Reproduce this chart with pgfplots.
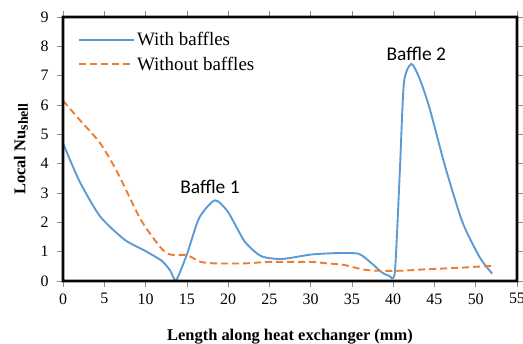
\documentclass[border=0pt]{standalone}
\usepackage{pgfplots}
\pgfplotsset{compat=1.18}
\usepackage{fontspec}
\setmainfont{Liberation Serif}
\newfontfamily\calib{Carlito}
\definecolor{xlblue}{RGB}{91,155,213}
\definecolor{xlorange}{RGB}{237,125,49}
\definecolor{framecol}{RGB}{5,5,5}
\definecolor{tickcol}{RGB}{140,140,140}
\begin{document}
\begin{tikzpicture}
\useasboundingbox (-63bp,-63bp) rectangle (460bp,281bp);
\begin{axis}[
  at={(0,0)}, anchor=south west,
  scale only axis,
  width=454bp, height=264bp,
  xmin=0, xmax=55, ymin=0, ymax=9,
  xtick={0,5,...,55}, ytick={0,1,...,9},
  axis line style={draw=framecol, line width=2.6pt},
  tick style={draw=tickcol, line width=0.6pt},
  tick align=outside, major tick length=6bp,
  /pgf/number format/assume math mode=true,
  tick label style={font=\rmfamily\fontsize{16}{18}\selectfont},
  yticklabel style={xshift=-5bp},
  xticklabel style={yshift=-3bp},
  xlabel={\textbf{Length along heat exchanger (mm)}},
  ylabel={\textbf{Local Nu\raisebox{-0.35ex}{\fontsize{14}{14}\selectfont shell}}},
  label style={font=\rmfamily\fontsize{16.5}{18}\selectfont},
  xlabel style={at={(axis description cs:0.5,0)}, anchor=center, yshift=-56bp},
  ylabel style={at={(axis description cs:-0.0925,0.5)}, anchor=center},
  legend style={draw=none, fill=none, at={(15bp,251bp)}, anchor=north west,
    font=\rmfamily\fontsize{19}{21}\selectfont, row sep=6pt, inner sep=0pt},
  legend cell align=left,
  every axis legend/.append style={/tikz/every even column/.append style={column sep=4bp}},
  legend image code/.code={\draw[#1] (0bp,0bp) -- (55bp,0bp);},
  clip=false,
]
\addplot[xlblue, line width=1.9pt, smooth, tension=0.4] coordinates {
(0,4.7) (2,3.4) (4.5,2.2) (7.5,1.4) (10,1.02) (12,0.68) (13,0.35) (13.7,0.03)
(15,0.9) (16.5,2.15) (18.4,2.75) (20,2.35) (22,1.35) (24,0.85) (26.5,0.75)
(30,0.9) (33,0.95) (35.8,0.93) (37.4,0.6) (38.6,0.3) (39.5,0.18) (40.2,0.3)
(40.8,3.7) (41.3,6.75) (42.2,7.4) (43.2,6.9) (44.4,5.9) (46.3,3.9) (48.4,2.0)
(50.5,0.8) (52,0.25)
};
\addlegendentry{With baffles}
\addplot[xlorange, line width=1.9pt, dash pattern=on 7bp off 4bp, smooth, tension=0.4] coordinates {
(0,6.15) (2,5.5) (4.5,4.7) (6.6,3.7) (9.4,2.1) (11.8,1.15) (13,0.9) (15,0.88)
(16.7,0.65) (18.5,0.6) (22,0.6) (25,0.65) (30,0.65) (32,0.6) (34,0.55)
(36.2,0.4) (38,0.35) (41,0.35) (44,0.4) (48,0.45) (52,0.52)
};
\addlegendentry{Without baffles}
\node[font=\calib\fontsize{19.5}{21}\selectfont] at (axis cs:17.8,3.2) {Baffle 1};
\node[font=\calib\fontsize{19.5}{21}\selectfont] at (axis cs:42.8,7.74) {Baffle 2};
\end{axis}
\fill[framecol, even odd rule] (-1.4bp,-1.4bp) rectangle (455.4bp,265.4bp)
  (1.4bp,1.4bp) rectangle (452.6bp,262.6bp);
\end{tikzpicture}
\end{document}
